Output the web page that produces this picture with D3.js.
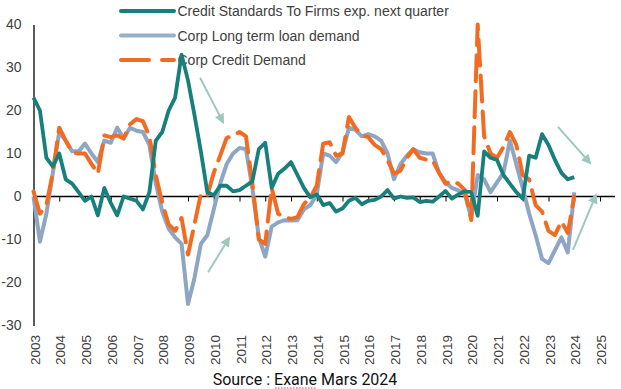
<!DOCTYPE html>
<html>
<head>
<meta charset="utf-8">
<script src="https://cdn.jsdelivr.net/npm/d3@7"></script>
<style>
  body { margin: 0; background: #fff; }
  svg { display: block; }
  text { font-family: "Liberation Sans", Arial, sans-serif; }
</style>
</head>
<body>
<div id="chart"></div>
<script>
// quarterly data, 2003Q1 .. 2024Q1
var quarters = d3.range(85).map(function(i) { return 2003 + i * 0.25; });

var creditStandards = [
  23, 20, 9, 7, 10, 4, 3, 1, -1, 0, -4.4, 2, -1.5, -4.4, 0, -0.5,
  -1, -3, 1, 13, 15, 20, 23, 33, 27, 19, 10.5, 1, 0.3, 2.5, 2.5, 1.2,
  1.5, 2.5, 3.5, 11, 12.5, 2, 5.3, 6.5, 8, 5, 2, -0.2, 0.5, -2, -1.5, -3.5,
  -2.8, -1, -0.3, -1.8, -1, -0.8, 0, 1.5, -0.5, 0, -0.3, -0.2, -1.3, -1, -1.2, 0,
  1.3, -0.5, 0.5, 1.2, 1, -4.5, 10.5, 9, 8.5, 5, 3, 1, -0.5, 9.5, 9, 14.5,
  12, 8.5, 5.5, 4, 4.5
];

var longTermDemand = [
  0, -10.5, -4, 5.5, 15, 13, 10.5, 10.5, 12.3, 10, 8, 13, 12.5, 16, 13.5, 16,
  15.3, 15, 12, 3, -3.5, -7.5, -9.5, -11, -25, -19, -11, -9, -3, 3, 7.5, 10,
  11.3, 11, 2, -9.5, -14, -7, -6, -5.5, -5.6, -5.5, -3, -2, 0.5, 10, 9.5, 8,
  10.3, 16, 15.5, 14, 14.5, 14, 13, 10, 4, 7.5, 9.5, 11, 10.3, 10, 10, 5.5,
  3.3, 2, 1.4, 0.6, -5, 5, 4, 1, 3.3, 5.5, 13, 7.5, 2, -4, -9, -14.5,
  -15.5, -12.5, -9.5, -13, 1
];

var creditDemand = [
  1.2, -4, -2, 5.5, 16, 13, 10.3, 10, 10, 7.6, 5.3, 14.2, 13.8, 14.2, 13.5, 16.8,
  18, 17.5, 14, 5, -1.5, -6.5, -8, -5, -13.5, -6.5, 0.6, 0.2, 5.5, 9.5, 13.6, 14.2,
  15, 14, 3, -10, -11, 2, -4, -4.8, -5.2, -4.8, -1.8, -0.2, 2.5, 12.3, 12.6, 9.5,
  10, 18.5, 16, 14.2, 13.8, 12, 11, 8.5, 5.3, 6, 9, 11, 9, 8.6, 8.4, 5.5,
  3, 3.5, 3, 1.5, -5.5, 40, 14, 10, 9, 11.5, 15, 12, 5, 4, -2, -3.5,
  -8, -9, -5.8, -8.5, 0
];

var seriesNames = [
  "Credit Standards To Firms exp. next quarter",
  "Corp Long term loan demand",
  "Corp Credit Demand"
];

var yearTicks = d3.range(2003, 2026);
var valueTicks = [40, 30, 20, 10, 0, -10, -20, -30];

// arrows: [year, value] tail -> head
var arrows = [
  [[2009.47, 27.6], [2010.36, 17.3]],
  [[2009.78, -17.6], [2010.59, -9.7]],
  [[2023.37, 16.2], [2024.61, 7.8]],
  [[2023.95, -12.4], [2024.84, 0.3]]
];

var svgWidth = 621;
var svgHeight = 389;

var svg = d3.select("#chart")
  .append("svg")
  .attr("width", svgWidth)
  .attr("height", svgHeight);

var x = d3.scaleLinear().domain([2003, 2025]).range([33.5, 600]);
var y = d3.scaleLinear().domain([-30, 40]).range([325.5, 24.5]);

var colors = ["#17807d", "#8ea6c4", "#f36b21"];

// y axis
var leftAxis = d3.axisLeft(y)
  .tickValues(valueTicks)
  .tickSize(0)
  .tickPadding(12)
  .tickFormat(function(d) { return String(d); });
var gy = svg.append("g")
  .attr("transform", "translate(" + x(2003) + ",0)")
  .call(leftAxis);
gy.select(".domain").attr("stroke", "#000").attr("stroke-width", 1.3);
gy.selectAll("text")
  .attr("font-size", "14px")
  .attr("fill", "#404040")
  .style("font-family", "'Liberation Sans', Arial, sans-serif");

// x axis on zero line
var bottomAxis = d3.axisBottom(x).tickValues(yearTicks).tickSize(5).tickFormat("");
var gx = svg.append("g")
  .attr("transform", "translate(0," + y(0) + ")")
  .call(bottomAxis);
gx.select(".domain").remove();
gx.selectAll("line").attr("stroke", "#000");
gx.append("line")
  .attr("x1", x(2003)).attr("x2", x(2025.58))
  .attr("stroke", "#000").attr("stroke-width", 1.3);

// year labels at bottom
svg.append("g").selectAll("text")
  .data(yearTicks)
  .enter().append("text")
  .attr("transform", function(d) { return "translate(" + (x(d) + 1.5) + "," + (y(-30) + 9.5) + ") rotate(-90)"; })
  .attr("text-anchor", "end")
  .attr("dy", "0.35em")
  .attr("font-size", "13.5px")
  .attr("fill", "#404040")
  .text(function(d) { return d; });

// legend
var legend = svg.append("g");
seriesNames.forEach(function(name, i) {
  var ly = 11 + i * 24.5;
  var ln = legend.append("line")
    .attr("x1", 121).attr("x2", 174)
    .attr("y1", ly).attr("y2", ly)
    .attr("stroke", i == 1 ? "#98aecb" : colors[i])
    .attr("stroke-width", 4)
    .attr("stroke-linecap", "round");
  if (i == 2) ln.attr("stroke-dasharray", "28,13");
  legend.append("text")
    .attr("x", 177.5)
    .attr("y", ly)
    .attr("dy", "0.36em")
    .attr("font-size", "14px")
    .attr("fill", "#404040")
    .text(name);
});

// lines
var line = d3.line()
  .x(function(d, i) { return x(quarters[i]); })
  .y(function(d) { return y(d); });

svg.append("path")
  .datum(longTermDemand)
  .attr("d", line)
  .attr("fill", "none")
  .attr("stroke", colors[1])
  .attr("stroke-width", 4)
  .attr("stroke-linejoin", "round");

svg.append("path")
  .datum(creditDemand)
  .attr("d", line)
  .attr("fill", "none")
  .attr("stroke", colors[2])
  .attr("stroke-width", 4)
  .attr("stroke-linejoin", "round")
  .attr("stroke-linecap", "round")
  .attr("stroke-dasharray", "26,10");

svg.append("path")
  .datum(creditStandards)
  .attr("d", line)
  .attr("fill", "none")
  .attr("stroke", colors[0])
  .attr("stroke-width", 3.8)
  .attr("stroke-linejoin", "round");

// annotation arrows
svg.append("defs").append("marker")
  .attr("id", "head")
  .attr("viewBox", "0 0 10 10")
  .attr("refX", 8).attr("refY", 5)
  .attr("markerWidth", 5).attr("markerHeight", 5)
  .attr("markerUnits", "strokeWidth")
  .attr("orient", "auto")
  .append("path")
  .attr("d", "M0,0L10,5L0,10Z")
  .attr("fill", "#9cc8bf");

svg.append("g").selectAll("line")
  .data(arrows)
  .enter().append("line")
  .attr("x1", function(d) { return x(d[0][0]); })
  .attr("y1", function(d) { return y(d[0][1]); })
  .attr("x2", function(d) { return x(d[1][0]); })
  .attr("y2", function(d) { return y(d[1][1]); })
  .attr("stroke", "#9cc8bf")
  .attr("stroke-width", 2)
  .attr("marker-end", "url(#head)");

// source
svg.append("text")
  .attr("x", 305)
  .attr("y", 385)
  .attr("text-anchor", "middle")
  .attr("font-size", "16px")
  .attr("fill", "#111")
  .style("font-family", "Roboto, sans-serif")
  .text("Source : Exane Mars 2024");

svg.append("line")
  .attr("x1", 275).attr("x2", 316)
  .attr("y1", 388).attr("y2", 388)
  .attr("stroke", "#e03030")
  .attr("stroke-width", 1)
  .attr("stroke-dasharray", "1.5,1.5");
</script>
</body>
</html>
